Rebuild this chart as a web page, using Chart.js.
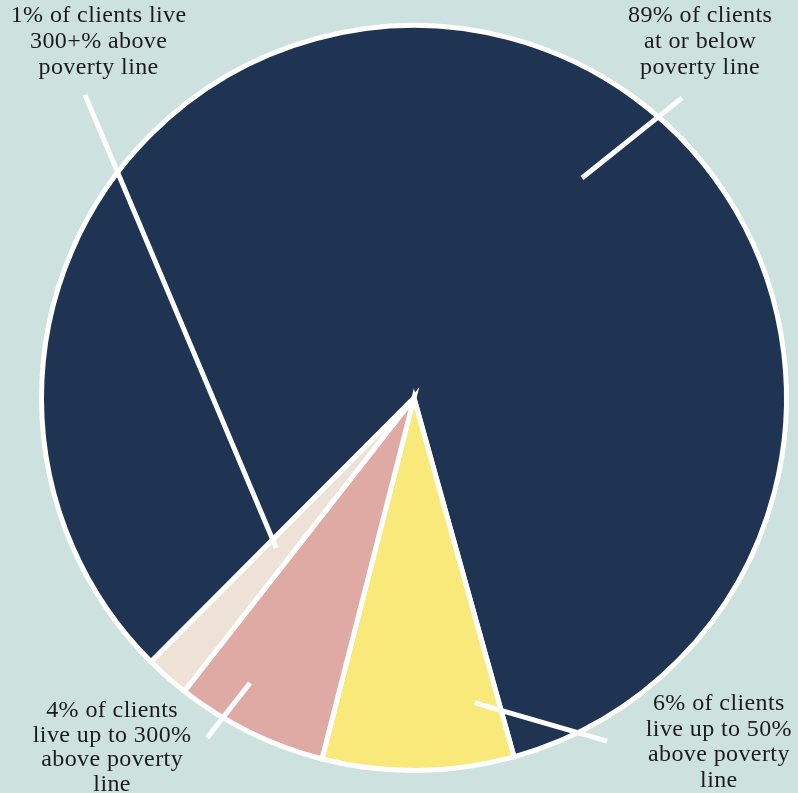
<!DOCTYPE html>
<html>
<head>
<meta charset="utf-8">
<script src="https://cdn.jsdelivr.net/npm/chart.js@4.4.1/dist/chart.umd.min.js"></script>
<style>
  html, body { margin: 0; padding: 0; background: #cde1df; }
  #wrap { width: 798px; height: 793px; position: relative; }
</style>
</head>
<body>
<div id="wrap"><canvas id="povertyPie"></canvas></div>
<script>
// Clients by income relative to the poverty line
const categories = [
    'At or below poverty line',
    'Up to 50% above poverty line',
    'Up to 300% above poverty line',
    '300+% above poverty line'
];
// slice sizes as drawn in the picture (percent of circle)
const shares = [83.2, 8.3, 6.6, 1.9];
const sliceColors = ['#1f3352', '#f9e97b', '#dfaaa3', '#eee2d6'];

// callout texts, same order as categories
const calloutText = [
    ['89% of clients', 'at or below', 'poverty line'],
    ['6% of clients', 'live up to 50%', 'above poverty', 'line'],
    ['4% of clients', 'live up to 300%', 'above poverty', 'line'],
    ['1% of clients live', '300+% above', 'poverty line']
];

// leader lines in polar form (degrees clockwise from top, radius fraction)
// and text anchor as offset from the centre in radius units
const calloutLayout = [
    { from: [41.77, 1.073], to: [37.37, 0.738], text: [0.763, -1.003], lh: 26 },
    { from: [150.64, 1.050], to: [168.69, 0.829], text: [0.813, 0.832], lh: 25.5 },
    { from: [211.33, 1.061], to: [209.92, 0.877], text: [-0.805, 0.851], lh: 24.5 },
    { from: [312.65, 1.193], to: [222.6, 0.543], text: [-0.841, -1.003], lh: 26 }
];

const calloutPlugin = {
    id: 'callouts',
    afterDatasetsDraw(chart) {
        const arc = chart.getDatasetMeta(0).data[0];
        if (!arc) return;
        const ctx = chart.ctx;
        const cx = arc.x, cy = arc.y;
        const R = arc.outerRadius + 2.5;
        const pt = (p) => {
            const a = p[0] * Math.PI / 180;
            return [cx + p[1] * R * Math.sin(a), cy - p[1] * R * Math.cos(a)];
        };
        ctx.save();
        ctx.strokeStyle = '#ffffff';
        ctx.lineWidth = 5;
        ctx.lineCap = 'butt';
        calloutLayout.forEach((c, i) => {
            const a = pt(c.from), b = pt(c.to);
            ctx.beginPath();
            ctx.moveTo(a[0], a[1]);
            ctx.lineTo(b[0], b[1]);
            ctx.stroke();

            ctx.fillStyle = '#1c1a1b';
            ctx.font = '24px "Liberation Serif", serif';
            if ('letterSpacing' in ctx) ctx.letterSpacing = '0.4px';
            ctx.textAlign = 'center';
            ctx.textBaseline = 'alphabetic';
            const tx = cx + c.text[0] * R, ty = cy + c.text[1] * R;
            calloutText[i].forEach((line, k) => {
                ctx.fillText(line, tx, ty + k * c.lh);
            });
        });
        ctx.restore();
    }
};

let ctx = document.getElementById('povertyPie');
let povertyPie = new Chart(ctx, {
    type: 'pie',
    data: {
        labels: categories,
        datasets: [{
            data: shares,
            backgroundColor: sliceColors,
            borderColor: '#ffffff',
            borderWidth: 5,
            borderJoinStyle: 'miter'
        }]
    },
    options: {
        responsive: true,
        maintainAspectRatio: false,
        animation: false,
        rotation: 224.9,
        layout: { padding: { left: 39, right: 9, top: 23, bottom: 20 } },
        events: [],
        plugins: {
            legend: { display: false },
            tooltip: { enabled: false }
        }
    },
    plugins: [calloutPlugin]
});
</script>
</body>
</html>
